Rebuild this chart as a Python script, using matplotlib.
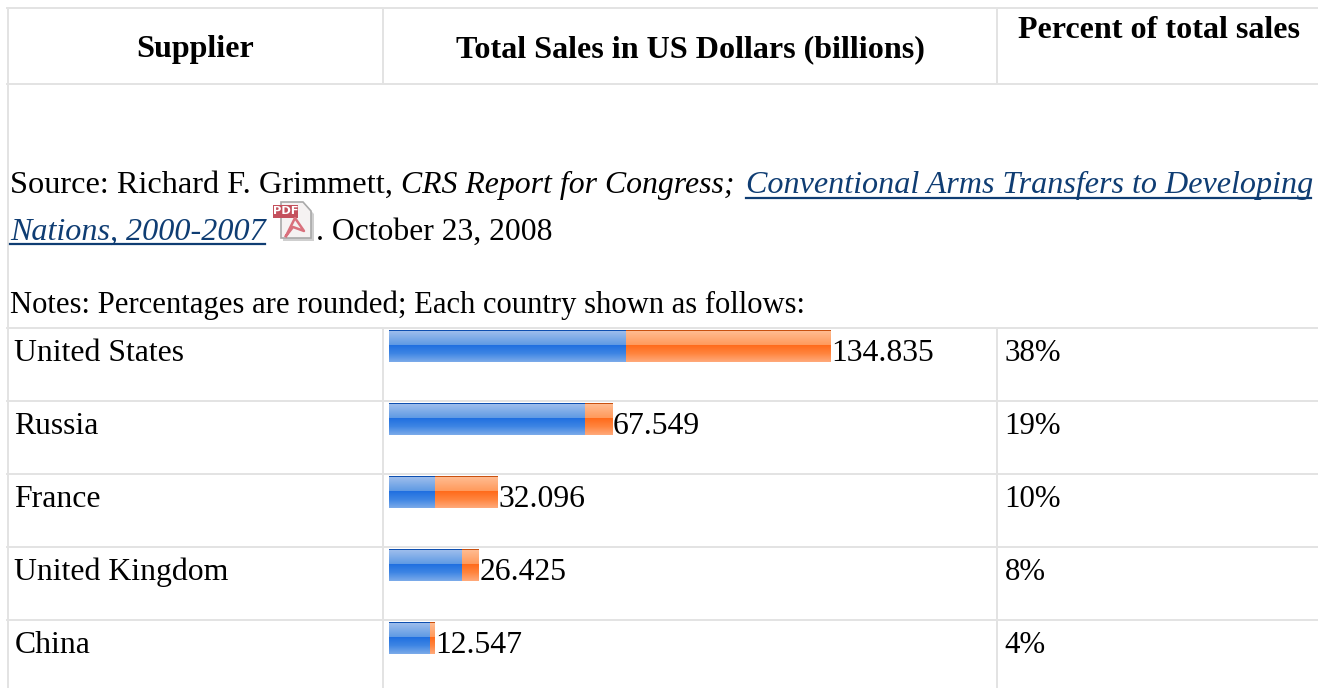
import numpy as np
import matplotlib.pyplot as plt
from matplotlib.colors import LinearSegmentedColormap
from matplotlib.patches import Rectangle, Polygon

W, H = 1318, 688

# Data
suppliers = ['United States', 'Russia', 'France', 'United Kingdom', 'China']
total_sales = [134.835, 67.549, 32.096, 26.425, 12.547]
first_part = [71.8, 59.2, 12.85, 21.2, 11.3]
percent_labels = ['38%', '19%', '10%', '8%', '4%']
headers = ['Supplier', 'Total Sales in US Dollars (billions)', 'Percent of total sales']

plt.rcParams['font.family'] = ['Liberation Serif', 'DejaVu Serif']
FS = 22.9
GRID = '#e3e3e3'
LINK = '#0f3d73'

fig = plt.figure(figsize=(W / 100, H / 100), dpi=100, facecolor='white')

# Page layer, in pixels from the top left
page = fig.add_axes([0, 0, 1, 1])
page.set_xlim(0, W)
page.set_ylim(H, 0)
page.axis('off')

# Header cell borders
page.plot([7, W], [8, 8], color=GRID, lw=1.4)
page.plot([7, W], [83.5, 83.5], color=GRID, lw=1.4)
page.plot([7.5, 7.5], [8, H], color=GRID, lw=1.4)
page.plot([383, 383], [8, 84], color=GRID, lw=1.4)
page.plot([997, 997], [8, 84], color=GRID, lw=1.4)

page.text(195, 50, headers[0], fontsize=23.1, fontweight='bold', ha='center', va='center')
page.text(690, 50, headers[1], fontsize=23.1, fontweight='bold', ha='center', va='center')
page.text(1159, 31, headers[2], fontsize=23.1, fontweight='bold', ha='center', va='center')

# Source and notes
page.text(10, 193, 'Source: Richard F. Grimmett,', fontsize=23.3, va='baseline')
page.text(401, 193, 'CRS Report for Congress;', fontsize=FS, style='italic', va='baseline')
page.text(746, 193, 'Conventional Arms Transfers to Developing', fontsize=23.1, style='italic',
          color=LINK, va='baseline')
page.plot([746, 1311], [198, 198], color=LINK, lw=1.6)
page.text(10, 240, 'Nations, 2000-2007', fontsize=23.1, style='italic', color=LINK, va='baseline')
page.plot([10, 265], [244, 244], color=LINK, lw=1.6)
page.text(316, 240, '. October 23, 2008', fontsize=22.8, va='baseline')
page.text(10, 313, 'Notes: Percentages are rounded; Each country shown as follows:', fontsize=22.1, va='baseline')

# Small PDF icon next to the link
page.add_patch(Polygon([[283, 204], [305, 204], [314, 214], [314, 241], [283, 241]],
                       closed=True, facecolor='#cfcfcf', edgecolor='none'))
page.add_patch(Polygon([[281, 202], [303, 202], [311, 211], [311, 238], [281, 238]],
                       closed=True, facecolor='#f5f2f2', edgecolor='#a9a9a9', lw=1.2))
page.plot([286, 295, 304, 293, 286], [236, 218, 231, 227, 236], color='#d9707c', lw=1.8)
page.add_patch(Rectangle((273, 205), 25, 13, facecolor='#c4505c', edgecolor='none'))
page.text(285.5, 211.5, 'PDF', fontsize=8.2, fontweight='bold', color='white',
          family='DejaVu Sans', ha='center', va='center')

# Table rows
row_tops = [328, 401, 474, 547, 620]
for top, name, pct in zip(row_tops, suppliers, percent_labels):
    page.plot([7, W], [top, top], color=GRID, lw=1.4)
    page.text(14.5, top + 33, name, fontsize=FS, va='baseline')
    page.text(1004.5, top + 33, pct, fontsize=22.2, va='baseline')
page.plot([383, 383], [328, H], color=GRID, lw=1.4)
page.plot([997, 997], [328, H], color=GRID, lw=1.4)

# Bars sit in their own axes so widths follow the sales scale
left, right, top, bottom = 389, 997, 328, 688
ax = fig.add_axes([left / W, 1 - bottom / H, (right - left) / W, (bottom - top) / H])
px_per_unit = 3.238
x_min = -(393.4 - left) / px_per_unit
ax.axis('off')

blue = LinearSegmentedColormap.from_list('glass_blue', [
    (0.0, '#0e4fb0'), (0.03, '#0e4fb0'), (0.04, '#9dbdec'), (0.47, '#5f9ae4'),
    (0.48, '#1f6fe0'), (0.75, '#3f86e4'), (1.0, '#79a9e9')])
orange = LinearSegmentedColormap.from_list('glass_orange', [
    (0.0, '#c8500f'), (0.03, '#c8500f'), (0.04, '#ffbb90'), (0.47, '#ff9a5c'),
    (0.48, '#ff6a1a'), (0.75, '#ff853f'), (1.0, '#ffa878')])
grad = np.linspace(0, 1, 64).reshape(-1, 1)

bar_h = 32 / 73
for i, (total, part) in enumerate(zip(total_sales, first_part)):
    y0, y1 = i - bar_h / 2, i + bar_h / 2
    ax.imshow(grad, extent=(x_min, part, y1, y0), cmap=blue, aspect='auto', interpolation='nearest')
    ax.imshow(grad, extent=(part, total, y1, y0), cmap=orange, aspect='auto', interpolation='nearest')
    ax.text(total + 0.3, i + 0.205, f'{total:.3f}', fontsize=22.8, va='baseline', clip_on=False)

ax.set_xlim(x_min, x_min + (right - left) / px_per_unit)
ax.set_ylim((bottom - 346) / 73, -(346 - top) / 73)

fig.savefig('out.png', dpi=100)
